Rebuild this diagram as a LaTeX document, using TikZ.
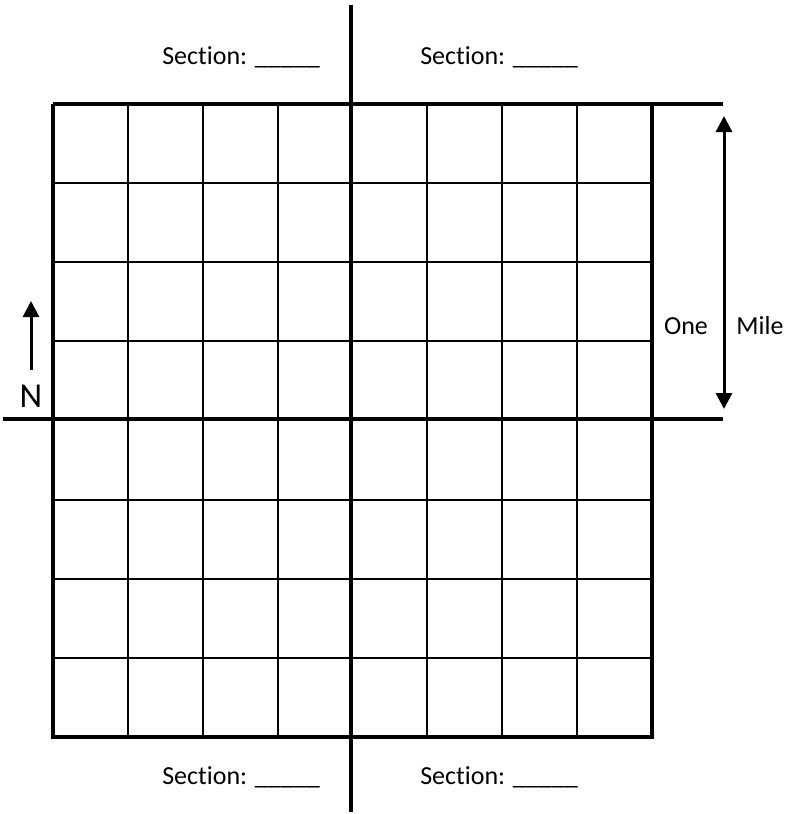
\documentclass[tikz,border=0pt]{standalone}
\usepackage{fontspec}
\setmainfont{Carlito}[Ligatures=NoCommon]
\usetikzlibrary{arrows.meta}
\begin{document}
\begin{tikzpicture}[x=1pt,y=-1pt,
  thin grid/.style={line width=2pt,black},
  thick grid/.style={line width=4pt,black},
  label/.style={font=\fontsize{26}{30}\selectfont,inner sep=0pt},
  marker/.style={line width=3pt,-{Triangle[length=16pt,width=16pt]}}]
\useasboundingbox (0,0) rectangle (793,814);
% thin grid lines
\foreach \i in {1,2,3,5,6,7} {
  \draw[thin grid] ({53+\i*74.875},104) -- ({53+\i*74.875},737);
  \draw[thin grid] (53,{104+\i*79.125}) -- (652,{104+\i*79.125});
}
% thick lines
\draw[thick grid] (53,104) -- (53,737) -- (652,737) -- (652,104);
\draw[thick grid] (53,104) -- (723,104);
\draw[thick grid] (3,419) -- (723,419);
\draw[thick grid] (350.5,5) -- (350.5,812);
% labels
\node[label] (s1) at (241,57) {Section: \_\_\_\_\_};
\node[label] (s2) at (499,57) {Section: \_\_\_\_\_};
\node[label] (s3) at (241,777) {Section: \_\_\_\_\_};
\node[label] (s4) at (499,777) {Section: \_\_\_\_\_};
\node[label] (one) at (686,326) {One};
\node[label] (mile) at (760,326) {Mile};
\node[font=\fontsize{35}{40}\selectfont,inner sep=0pt] (n) at (31,396) {N};
% mile arrow
\coordinate (mid) at (724,263);
\coordinate (top) at (724,116);
\coordinate (bot) at (724,409);
\draw[marker] (mid) -- (top);
\draw[marker] (mid) -- (bot);
% north arrow
\coordinate (nbase) at (31,370);
\coordinate (ntip) at (31,301);
\draw[marker] (nbase) -- (ntip);
\end{tikzpicture}
\end{document}
